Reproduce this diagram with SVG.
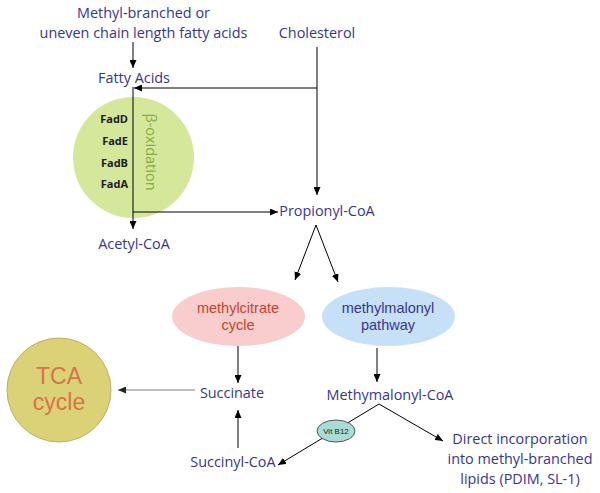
<svg xmlns="http://www.w3.org/2000/svg" width="600" height="493" viewBox="0 0 600 493">
<defs>
<marker id="ah" markerUnits="userSpaceOnUse" markerWidth="8" markerHeight="7" refX="8" refY="3.5" orient="auto"><path d="M0,0 L8,3.5 L0,7 z" fill="#000"/></marker>
<marker id="ahg" markerUnits="userSpaceOnUse" markerWidth="8" markerHeight="7" refX="8" refY="3.5" orient="auto"><path d="M0,0 L8,3.5 L0,7 z" fill="#222"/></marker>
<style>
.lbl{font-family:"Open Sans","Noto Sans","Liberation Sans",sans-serif;font-size:14.4px;fill:#363690;text-anchor:middle}
.ar{font-family:"Liberation Sans",Arial,sans-serif;font-size:14.5px;text-anchor:middle}
.fad{font-family:"Open Sans","Liberation Sans",sans-serif;font-size:11px;font-weight:bold;fill:#1a1a1a;text-anchor:end}
.c{fill:none;stroke:#000;stroke-width:1}
</style>
</defs>
<rect width="600" height="493" fill="#fff"/>
<g id="beta-oxidation">
<circle cx="133.5" cy="157.5" r="60.5" fill="#d5e79b"/>
<text class="fad" x="128" y="123">FadD</text>
<text class="fad" x="128" y="145">FadE</text>
<text class="fad" x="128" y="167">FadB</text>
<text class="fad" x="128" y="188">FadA</text>
<text transform="translate(146,152) rotate(90)" style="font-family:'Open Sans','Noto Sans','Liberation Sans',sans-serif;font-size:14.5px;fill:#84ad45;text-anchor:middle">β-oxidation</text>
</g>
<g id="connectors">
<path class="c" d="M133,42 V68" marker-end="url(#ah)"/>
<path class="c" d="M317,88 H134" marker-end="url(#ah)"/>
<path class="c" d="M317,47 V195" marker-end="url(#ah)"/>
<path class="c" d="M133,87 V229" marker-end="url(#ah)"/>
<path class="c" d="M133,212 H278" marker-end="url(#ah)"/>
<path class="c" d="M316,225 L295,280" marker-end="url(#ah)"/>
<path class="c" d="M316,225 L338,282" marker-end="url(#ah)"/>
<path class="c" d="M238,346 V383" marker-end="url(#ah)"/>
<path class="c" d="M377,348 V382" marker-end="url(#ah)"/>
<path d="M195,390 H118" fill="none" stroke="#808080" stroke-width="1.2" marker-end="url(#ahg)"/>
<path class="c" d="M238,448 V410" marker-end="url(#ah)"/>
<path class="c" d="M379,404 L278,465" marker-end="url(#ah)"/>
<path class="c" d="M379,404 L443,441" marker-end="url(#ah)"/>
</g>
<g id="source-fatty-acids">
<text class="lbl" x="143.5" y="18">Methyl-branched or</text>
<text class="lbl" x="143.5" y="38">uneven chain length fatty acids</text>
</g>
<g id="cholesterol"><text class="lbl" x="317" y="38">Cholesterol</text></g>
<g id="fatty-acids"><text class="lbl" x="134" y="83">Fatty Acids</text></g>
<g id="acetyl-coa"><text class="lbl" x="134" y="249">Acetyl-CoA</text></g>
<g id="propionyl-coa"><text class="lbl" x="327" y="216">Propionyl-CoA</text></g>
<g id="methylcitrate-cycle">
<ellipse cx="238.5" cy="316.5" rx="66.5" ry="29.5" fill="#f9cdcd"/>
<text class="ar" x="238" y="313" fill="#c8442c">methylcitrate</text>
<text class="ar" x="238" y="330" fill="#c8442c">cycle</text>
</g>
<g id="methylmalonyl-pathway">
<ellipse cx="388.5" cy="316.5" rx="66.5" ry="29.5" fill="#c6e0f8"/>
<text class="ar" x="388" y="313" fill="#363690">methylmalonyl</text>
<text class="ar" x="388" y="330" fill="#363690">pathway</text>
</g>
<g id="tca-cycle">
<circle cx="59" cy="390" r="52" fill="#dbd277" stroke="#c4ad63" stroke-width="1"/>
<text x="59" y="384" style="font-family:'Liberation Sans',Arial,sans-serif;font-size:23px;fill:#d8734a;text-anchor:middle">TCA</text>
<text x="59" y="410" style="font-family:'Liberation Sans',Arial,sans-serif;font-size:23px;fill:#d8734a;text-anchor:middle">cycle</text>
</g>
<g id="succinate"><text class="lbl" x="232" y="398">Succinate</text></g>
<g id="succinyl-coa"><text class="lbl" x="233" y="467">Succinyl-CoA</text></g>
<g id="methylmalonyl-coa"><text class="lbl" x="390" y="400">Methymalonyl-CoA</text></g>
<g id="vit-b12">
<ellipse cx="336" cy="431" rx="19" ry="11" fill="#a9dcd6" stroke="#333" stroke-width="0.8"/>
<text x="336" y="434" style="font-family:'Liberation Sans',Arial,sans-serif;font-size:8px;fill:#222;text-anchor:middle">Vit B12</text>
</g>
<g id="direct-incorporation">
<text class="lbl" x="520" y="444">Direct incorporation</text>
<text class="lbl" x="520" y="464">into methyl-branched</text>
<text class="lbl" x="520" y="484">lipids (PDIM, SL-1)</text>
</g>
</svg>
